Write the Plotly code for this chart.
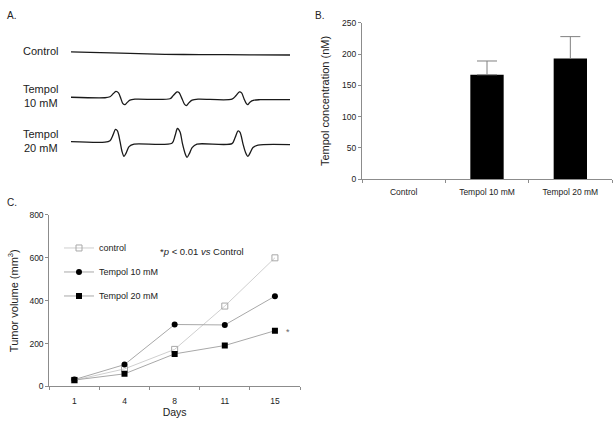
import plotly.graph_objects as go

W, H = 615, 424
FONT = "Liberation Sans, Arial, sans-serif"
AX = "#8c8c8c"
TXT = "#222222"


def px(x):
    return x / W


def py(y):
    return 1 - y / H


# ---------------- Panel A: EPR spectra (field in a.u., signal in a.u.) ----------------
epr_field_ctrl = [0, 8.7, 26.9, 42.9, 58.9, 81.7, 100]
epr_sig_ctrl = [1.5, 1.0, 0.0, -1.0, -1.3, -1.5, -1.7]

epr_field_10 = [0, 15.5, 17.8, 19.2, 20.5, 21.7, 22.8, 23.7, 24.7, 25.6, 26.9, 29.2,
                45.2, 46.6, 48.4, 49.3, 50.7, 51.8, 52.7, 53.9, 55.3, 58.0,
                73.5, 75.3, 76.9, 77.9, 79.0, 80.1, 80.8, 81.7, 83.6, 86.3, 100]
epr_sig_10 = [1.0, 0.5, 1.5, 4.5, 7.0, 5.5, -0.5, -5.5, -6.5, -4.5, -2.0, -1.0,
              -0.5, 2.5, 6.5, 6.0, -0.5, -6.0, -7.5, -4.5, -2.0, -1.0,
              -1.0, 2.5, 6.5, 5.5, -0.5, -5.5, -6.5, -4.0, -2.0, -1.5, -1.5]

epr_field_20 = [0, 15.5, 17.8, 19.2, 20.3, 21.2, 22.4, 23.3, 24.2, 25.1, 26.5, 28.8,
                46.1, 47.5, 48.6, 49.8, 50.9, 52.1, 53.0, 54.1, 55.3, 57.5,
                73.5, 74.9, 76.3, 77.2, 78.5, 79.7, 80.8, 81.9, 83.1, 85.4, 100]
epr_sig_20 = [1.5, 1.0, 2.5, 8.5, 14.0, 12.5, 1.5, -8.5, -13.5, -10.5, -3.5, -1.0,
              0.0, 7.5, 15.0, 11.5, -0.5, -10.5, -14.5, -10.5, -4.5, -1.0,
              -0.5, 5.5, 12.5, 11.0, -0.5, -9.5, -13.5, -9.5, -4.5, -2.0, -1.5]

epr_labels = ["Control", "Tempol<br>10 mM", "Tempol<br>20 mM"]

# ---------------- Panel B: Tempol concentration ----------------
conc_cats = ["Control", "Tempol 10 mM", "Tempol 20 mM"]
conc_mean = [0, 167, 193]
conc_sd = [0, 22, 35]

# ---------------- Panel C: tumor volume ----------------
days = ["1", "4", "8", "11", "15"]
vol_control = [29, 82, 173, 375, 600]
vol_tempol10 = [32, 102, 289, 287, 421]
vol_tempol20 = [30, 59, 152, 191, 260]

fig = go.Figure()

# Panel A traces
spectra = [(epr_field_ctrl, epr_sig_ctrl, "y"),
           (epr_field_10, epr_sig_10, "y2"),
           (epr_field_20, epr_sig_20, "y3")]
for fx, sy, ya in spectra:
    fig.add_trace(go.Scatter(x=fx, y=sy, mode="lines", xaxis="x", yaxis=ya,
                             line=dict(color="#1a1a1a", width=1.3, shape="spline", smoothing=0.8),
                             showlegend=False, hoverinfo="skip"))

# Panel B bars
fig.add_trace(go.Bar(x=conc_cats, y=conc_mean, xaxis="x2", yaxis="y4", width=0.4,
                     marker=dict(color="black", line=dict(width=0)),
                     showlegend=False))
# upper error bars (only where an SD exists)
err_idx = [i for i, s in enumerate(conc_sd) if s > 0]
fig.add_trace(go.Scatter(x=[conc_cats[i] for i in err_idx], y=[conc_mean[i] for i in err_idx],
                         mode="markers", xaxis="x2", yaxis="y4",
                         marker=dict(size=1, opacity=0),
                         error_y=dict(type="data", symmetric=False,
                                      array=[conc_sd[i] for i in err_idx],
                                      arrayminus=[0] * len(err_idx),
                                      color="#808080", thickness=1, width=10),
                         showlegend=False, hoverinfo="skip"))

# Panel C lines
fig.add_trace(go.Scatter(x=days, y=vol_control, mode="lines+markers", xaxis="x3", yaxis="y5",
                         name="control", legendgroup="a",
                         line=dict(color="#cfcfcf", width=1),
                         marker=dict(symbol="square-open", size=6, color="#a8a8a8",
                                     line=dict(width=1, color="#a8a8a8"))))
fig.add_trace(go.Scatter(x=days, y=vol_tempol10, mode="lines+markers", xaxis="x3", yaxis="y5",
                         name="Tempol 10 mM", legendgroup="b",
                         line=dict(color="#a8a8a8", width=1),
                         marker=dict(symbol="circle", size=6, color="black")))
fig.add_trace(go.Scatter(x=days, y=vol_tempol20, mode="lines+markers", xaxis="x3", yaxis="y5",
                         name="Tempol 20 mM", legendgroup="c",
                         line=dict(color="#a8a8a8", width=1),
                         marker=dict(symbol="square", size=6, color="black")))

# ---------------- Layout ----------------
centers = [49.5, 95.5, 141.5]
half = 20


def dom(c):
    return [py(c + half), py(c - half)]


hidden = dict(visible=False, showgrid=False, zeroline=False)
tick_common = dict(showline=True, linecolor=AX, linewidth=1, showgrid=False, zeroline=False,
                   ticks="outside", ticklen=3, tickcolor=AX)

layout = dict(
    width=W, height=H, autosize=False,
    margin=dict(l=0, r=0, t=0, b=0),
    paper_bgcolor="white", plot_bgcolor="white",
    font=dict(family=FONT, color=TXT, size=9),
    xaxis=dict(domain=[px(71), px(290)], range=[0, 100], anchor="y", **hidden),
    yaxis=dict(domain=dom(centers[0]), range=[-half, half], anchor="x", **hidden),
    yaxis2=dict(domain=dom(centers[1]), range=[-half, half], anchor="x", **hidden),
    yaxis3=dict(domain=dom(centers[2]), range=[-half, half], anchor="x", **hidden),
    xaxis2=dict(domain=[px(362), px(612)], anchor="y4", type="category",
                range=[-0.5, len(conc_cats) - 0.5], tickson="boundaries",
                ticklabelstandoff=5, tickfont=dict(size=8.5, color=TXT), **tick_common),
    yaxis4=dict(domain=[py(178.3), py(18.3)], anchor="x2", range=[0, 250], dtick=50,
                tickfont=dict(size=8.5, color=TXT), **tick_common,
                title=dict(text="Tempol concentration (nM)", font=dict(size=11, color=TXT), standoff=10)),
    xaxis3=dict(domain=[px(49.3), px(300)], anchor="y5", type="category",
                range=[-0.5, len(days) - 0.5], tickangle=0, tickson="boundaries",
                ticklabelstandoff=6, tickfont=dict(size=8.5, color=TXT), **tick_common,
                title=dict(text="Days", font=dict(size=10.5, color=TXT), standoff=2)),
    yaxis5=dict(domain=[py(390.7), py(215)], anchor="x3", range=[0, 800], dtick=200,
                tickfont=dict(size=8.5, color=TXT), **tick_common,
                title=dict(text="Tumor volume (mm<sup>3</sup>)", font=dict(size=11, color=TXT), standoff=8)),
    legend=dict(x=px(59), y=py(234), xanchor="left", yanchor="top",
                bgcolor="rgba(0,0,0,0)", font=dict(size=9, color=TXT),
                tracegroupgap=5, itemwidth=30),
    showlegend=True,
)
fig.update_layout(**layout)

ann = []
for lab, c in zip(["A.", "B.", "C."], [(5, 11), (313, 11), (5, 202)]):
    ann.append(dict(text=lab, x=px(c[0]), y=py(c[1]), xref="paper", yref="paper",
                    xanchor="left", yanchor="middle", showarrow=False,
                    font=dict(size=10, color=TXT)))
for lab, c in zip(epr_labels, centers):
    ann.append(dict(text=lab, x=px(40), y=py(c - 2), xref="paper", yref="paper",
                    xanchor="center", yanchor="middle", showarrow=False, align="center",
                    font=dict(size=11, color=TXT)))
ann.append(dict(text="*<i>p</i> &lt; 0.01 <i>vs</i> Control", x=px(158), y=py(252.7),
                xref="paper", yref="paper", xanchor="left", yanchor="middle",
                showarrow=False, font=dict(size=9.5, color=TXT)))
ann.append(dict(text="*", x=len(days) - 1, y=vol_tempol20[-1], xref="x3", yref="y5",
                xshift=13, yshift=-1, showarrow=False, font=dict(size=9, color="#666666")))
fig.update_layout(annotations=ann)

fig.write_html("out.html", config={"displayModeBar": False},
               post_script="document.body.style.margin='0';")
